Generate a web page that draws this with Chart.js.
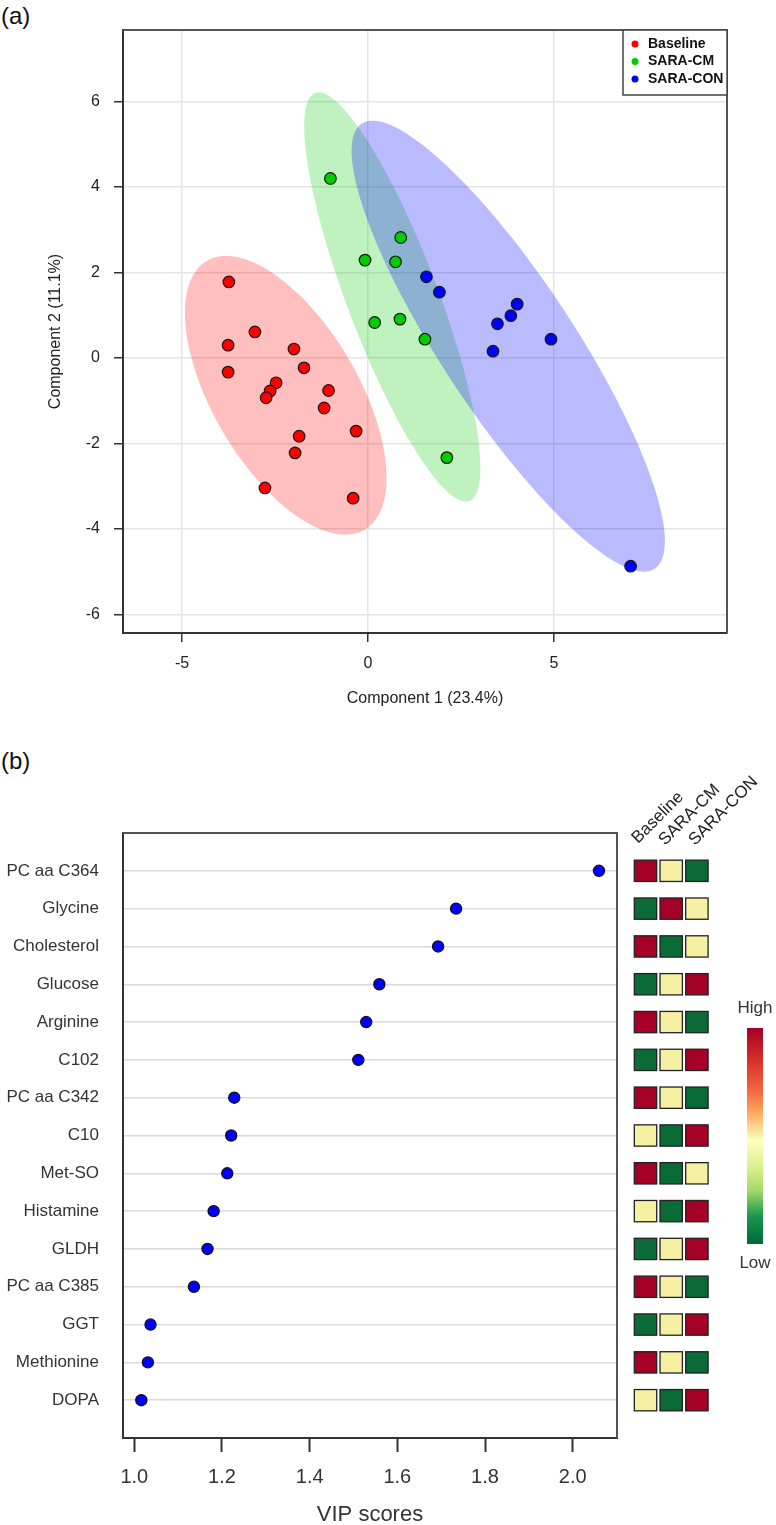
<!DOCTYPE html>
<html>
<head>
<meta charset="utf-8">
<script src="https://cdn.jsdelivr.net/npm/chart.js@4.4.1/dist/chart.umd.min.js"></script>
<style>
  html, body { margin: 0; padding: 0; background: #fff; }
  body { width: 776px; height: 1525px; position: relative; overflow: hidden; font-family: 'Liberation Sans', Arial, sans-serif; }
  .tag { position: absolute; left: 1px; font-size: 24px; color: #111; line-height: 1; }
  #scores { position: absolute; left: 0; top: 0; }
  #vip { position: absolute; left: 0; top: 730px; }
</style>
</head>
<body>
<div class="tag" style="top:4px">(a)</div>
<div class="tag" style="top:749px">(b)</div>
<canvas id="scores" width="776" height="720"></canvas>
<canvas id="vip" width="776" height="800"></canvas>
<script>
// ---- panel (a): PLS-DA scores ----
const groupNames = ['Baseline', 'SARA-CM', 'SARA-CON'];
const baselineX = [-3.74, -3.04, -3.76, -1.99, -3.76, -1.72, -2.47, -2.63, -2.74, -1.06, -1.18, -0.32, -1.85, -1.96, -2.77, -0.40];
const baselineY = [1.78, 0.61, 0.30, 0.21, -0.33, -0.23, -0.58, -0.77, -0.93, -0.76, -1.17, -1.71, -1.83, -2.22, -3.04, -3.28];
const saraCmX = [-1.01, -0.08, 0.74, 0.88, 0.18, 0.86, 1.53, 2.12];
const saraCmY = [4.20, 2.29, 2.25, 2.82, 0.83, 0.91, 0.44, -2.33];
const saraConX = [1.57, 1.92, 4.01, 3.84, 3.48, 3.36, 4.92, 7.06];
const saraConY = [1.90, 1.54, 1.26, 0.99, 0.80, 0.16, 0.44, -4.87];
const xTicksA = [-5, 0, 5];
const yTicksA = [-6, -4, -2, 0, 2, 4, 6];

// ---- panel (b): VIP scores ----
const metabolites = ['PC aa C364', 'Glycine', 'Cholesterol', 'Glucose', 'Arginine', 'C102', 'PC aa C342', 'C10',
  'Met-SO', 'Histamine', 'GLDH', 'PC aa C385', 'GGT', 'Methionine', 'DOPA'];
const vipScores = [2.060, 1.734, 1.693, 1.559, 1.529, 1.511, 1.228, 1.221, 1.212, 1.181, 1.167, 1.136, 1.037, 1.031, 1.016];
const vipTicks = [1.0, 1.2, 1.4, 1.6, 1.8, 2.0];
// relative level per group: 1 high, 0 middle, -1 low
const heatBaseline = [1, -1, 1, -1, 1, -1, 1, 0, 1, 0, -1, 1, -1, 1, 0];
const heatSaraCm = [0, 1, -1, 0, 0, 0, 0, -1, -1, -1, 0, 0, 0, 0, -1];
const heatSaraCon = [-1, 0, 0, 1, -1, 1, -1, 1, 0, 1, 1, -1, 1, -1, 1];

const FONT = "'Liberation Sans', Arial, sans-serif";
Chart.defaults.font.family = FONT;
Chart.defaults.color = '#222';

const CHI2_95 = 5.991; // qchisq(0.95, df = 2)

const groups = [
  { xs: baselineX, ys: baselineY, color: '#ff0000', fill: 'rgba(255,0,0,0.25)' },
  { xs: saraCmX, ys: saraCmY, color: '#00cd00', fill: 'rgba(0,205,0,0.25)' },
  { xs: saraConX, ys: saraConY, color: '#0000ff', fill: 'rgba(0,0,255,0.27)' }
];

function confidenceEllipse(xs, ys) {
  const n = xs.length;
  const mx = xs.reduce((a, b) => a + b, 0) / n;
  const my = ys.reduce((a, b) => a + b, 0) / n;
  let sxx = 0, syy = 0, sxy = 0;
  for (let i = 0; i < n; i++) {
    const dx = xs[i] - mx, dy = ys[i] - my;
    sxx += dx * dx; syy += dy * dy; sxy += dx * dy;
  }
  sxx /= n - 1; syy /= n - 1; sxy /= n - 1;
  const mid = (sxx + syy) / 2;
  const d = Math.sqrt(((sxx - syy) / 2) ** 2 + sxy * sxy);
  return {
    mx, my,
    r1: Math.sqrt((mid + d) * CHI2_95),
    r2: Math.sqrt(Math.max(mid - d, 0) * CHI2_95),
    theta: 0.5 * Math.atan2(2 * sxy, sxx - syy)
  };
}

const ellipsePlugin = {
  id: 'ellipses',
  beforeDatasetsDraw(chart) {
    const { ctx, chartArea: a, scales: { x, y } } = chart;
    ctx.save();
    ctx.beginPath();
    ctx.rect(a.left, a.top, a.right - a.left, a.bottom - a.top);
    ctx.clip();
    groups.forEach((g) => {
      const e = confidenceEllipse(g.xs, g.ys);
      const c = Math.cos(e.theta), s = Math.sin(e.theta);
      ctx.beginPath();
      for (let k = 0; k <= 160; k++) {
        const t = (k / 160) * 2 * Math.PI;
        const ex = e.mx + e.r1 * c * Math.cos(t) - e.r2 * s * Math.sin(t);
        const ey = e.my + e.r1 * s * Math.cos(t) + e.r2 * c * Math.sin(t);
        const px = x.getPixelForValue(ex), py = y.getPixelForValue(ey);
        if (k) ctx.lineTo(px, py); else ctx.moveTo(px, py);
      }
      ctx.closePath();
      ctx.fillStyle = g.fill;
      ctx.fill();
    });
    ctx.restore();
  }
};

const frameLegendPlugin = {
  id: 'frameLegend',
  afterDraw(chart) {
    const { ctx, chartArea: a } = chart;
    ctx.save();
    ctx.strokeStyle = '#555';
    ctx.lineWidth = 2;
    ctx.beginPath();
    ctx.moveTo(a.left, a.top);
    ctx.lineTo(a.right, a.top);
    ctx.lineTo(a.right, a.bottom);
    ctx.stroke();

    // legend box in the top right corner
    const w = 104, h = 65;
    const lx = a.right - w, ly = a.top;
    ctx.fillStyle = '#fff';
    ctx.fillRect(lx, ly, w, h);
    ctx.lineWidth = 1.5;
    ctx.strokeStyle = '#444';
    ctx.strokeRect(lx, ly, w, h);
    ctx.font = 'bold 14px ' + FONT;
    ctx.textBaseline = 'middle';
    groupNames.forEach((name, i) => {
      const cy = ly + 14 + i * 17.5;
      ctx.beginPath();
      ctx.arc(lx + 12, cy, 3.5, 0, 2 * Math.PI);
      ctx.fillStyle = groups[i].color;
      ctx.fill();
      ctx.fillStyle = '#111';
      ctx.fillText(name, lx + 25, cy);
    });
    ctx.restore();
  }
};

new Chart(document.getElementById('scores'), {
  type: 'scatter',
  data: {
    datasets: groups.map((g, i) => ({
      label: groupNames[i],
      data: g.xs.map((v, k) => ({ x: v, y: g.ys[k] })),
      backgroundColor: g.color,
      borderColor: '#1a1a1a',
      borderWidth: 1.2,
      pointRadius: 5.8
    }))
  },
  options: {
    responsive: false,
    animation: false,
    events: [],
    devicePixelRatio: 1,
    layout: { padding: { left: 0, top: 30, right: 49, bottom: 0 } },
    plugins: { legend: { display: false }, tooltip: { enabled: false } },
    scales: {
      x: {
        type: 'linear', min: -6.586, max: 9.651,
        afterBuildTicks: (s) => { s.ticks = xTicksA.map((v) => ({ value: v })); },
        afterFit: (s) => { s.height = 87; },
        ticks: { font: { size: 16 }, color: '#222', padding: 12 },
        grid: { color: '#e4e4e4', lineWidth: 1.5, tickColor: '#333', tickLength: 9, tickWidth: 1.5 },
        border: { color: '#333', width: 2 },
        title: { display: true, text: 'Component 1 (23.4%)', font: { size: 16 }, color: '#222', padding: { top: 0, bottom: 12 } }
      },
      y: {
        type: 'linear', min: -6.433, max: 7.673,
        afterBuildTicks: (s) => { s.ticks = yTicksA.map((v) => ({ value: v })); },
        afterFit: (s) => { s.width = 123; },
        ticks: { font: { size: 16 }, color: '#222', padding: 14 },
        grid: { color: '#e4e4e4', lineWidth: 1.5, tickColor: '#333', tickLength: 9, tickWidth: 1.5 },
        border: { color: '#333', width: 2 },
        title: { display: true, text: 'Component 2 (11.1%)', font: { size: 16 }, color: '#222', padding: { top: 46, bottom: 0 } }
      }
    }
  },
  plugins: [ellipsePlugin, frameLegendPlugin]
});

// ---- heatmap strip, colour key and frame for panel (b) ----
const heatColor = { '1': '#a50026', '0': '#f6f1a2', '-1': '#0b6b37' };
const heatColumns = [heatBaseline, heatSaraCm, heatSaraCon];

const heatPlugin = {
  id: 'heat',
  afterDraw(chart) {
    const { ctx, chartArea: a, scales: { y } } = chart;
    ctx.save();
    ctx.strokeStyle = '#555';
    ctx.lineWidth = 2;
    ctx.beginPath();
    ctx.moveTo(a.left, a.top);
    ctx.lineTo(a.right, a.top);
    ctx.lineTo(a.right, a.bottom);
    ctx.stroke();

    const colX = [645.5, 671.2, 696.9];
    const cw = 22.4, ch = 21.3;
    heatColumns.forEach((col, c) => {
      col.forEach((lvl, r) => {
        const cy = y.getPixelForValue(r);
        ctx.fillStyle = heatColor[String(lvl)];
        ctx.fillRect(colX[c] - cw / 2, cy - ch / 2, cw, ch);
        ctx.lineWidth = 1.3;
        ctx.strokeStyle = '#222';
        ctx.strokeRect(colX[c] - cw / 2, cy - ch / 2, cw, ch);
      });
    });

    // rotated group names above the strip
    ctx.font = '17px ' + FONT;
    ctx.fillStyle = '#222';
    ctx.textAlign = 'left';
    ctx.textBaseline = 'alphabetic';
    const headPos = [[638, 114], [665, 116], [695, 116]];
    groupNames.forEach((name, i) => {
      ctx.save();
      ctx.translate(headPos[i][0], headPos[i][1]);
      ctx.rotate(-Math.PI / 4);
      ctx.fillText(name, 0, 0);
      ctx.restore();
    });

    // colour key
    const kx = 747, ktop = 298, kbot = 514, kw = 16;
    const grad = ctx.createLinearGradient(0, ktop, 0, kbot);
    grad.addColorStop(0, '#a50026');
    grad.addColorStop(0.15, '#d73027');
    grad.addColorStop(0.3, '#f46d43');
    grad.addColorStop(0.4, '#fdae61');
    grad.addColorStop(0.52, '#ffffbf');
    grad.addColorStop(0.65, '#d9ef8b');
    grad.addColorStop(0.75, '#a6d96a');
    grad.addColorStop(0.87, '#1a9850');
    grad.addColorStop(1, '#006837');
    ctx.fillStyle = grad;
    ctx.fillRect(kx, ktop, kw, kbot - ktop);
    ctx.font = '17px ' + FONT;
    ctx.fillStyle = '#333';
    ctx.textAlign = 'center';
    ctx.textBaseline = 'middle';
    ctx.fillText('High', kx + kw / 2, 278);
    ctx.fillText('Low', kx + kw / 2, 533);
    ctx.restore();
  }
};

new Chart(document.getElementById('vip'), {
  type: 'scatter',
  data: {
    datasets: [{
      label: 'VIP scores',
      data: vipScores.map((v, i) => ({ x: v, y: i })),
      backgroundColor: '#0000ff',
      borderColor: '#111',
      borderWidth: 1.2,
      pointRadius: 5.6
    }]
  },
  options: {
    responsive: false,
    animation: false,
    events: [],
    devicePixelRatio: 1,
    layout: { padding: { left: 0, top: 103, right: 159, bottom: 0 } },
    plugins: { legend: { display: false }, tooltip: { enabled: false } },
    scales: {
      x: {
        type: 'linear', min: 0.9742, max: 2.1011,
        afterBuildTicks: (s) => { s.ticks = vipTicks.map((v) => ({ value: v })); },
        afterFit: (s) => { s.height = 92; },
        ticks: { font: { size: 20 }, color: '#333', padding: 13, callback: (v) => Number(v).toFixed(1) },
        grid: { drawOnChartArea: false, tickColor: '#333', tickLength: 14, tickWidth: 2 },
        border: { color: '#333', width: 2 },
        title: { display: true, text: 'VIP scores', font: { size: 22 }, color: '#333', padding: { top: 0, bottom: 2 } }
      },
      y: {
        type: 'linear', reverse: true, min: -1, max: 15,
        afterBuildTicks: (s) => { s.ticks = metabolites.map((_, i) => ({ value: i })); },
        afterFit: (s) => { s.width = 123; },
        ticks: { font: { size: 17 }, color: '#333', padding: 24, autoSkip: false, callback: (v) => metabolites[v] },
        grid: { color: '#dadada', lineWidth: 1.5, drawTicks: false },
        border: { color: '#333', width: 2 }
      }
    }
  },
  plugins: [heatPlugin]
});
</script>
</body>
</html>
